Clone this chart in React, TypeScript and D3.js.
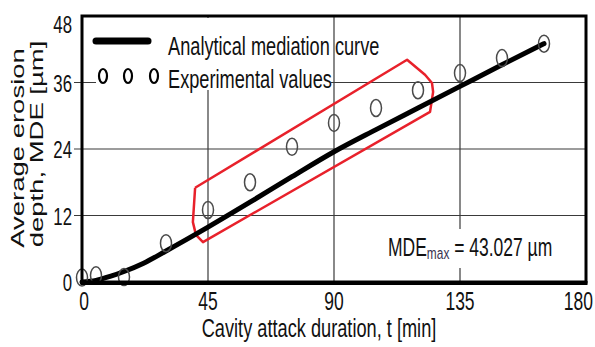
import { useEffect, useRef } from 'react';
import * as d3 from 'd3';

const expTime = [0, 5, 15, 30, 45, 60, 75, 90, 105, 120, 135, 150, 165];
const expDepth = [0.8, 1.2, 0.9, 7.0, 13.0, 18.0, 24.4, 28.7, 31.4, 34.6, 37.7, 40.4, 43.0];

// Analytical mediation curve
const curveTime = [0, 5, 10, 15, 22, 30, 45, 60, 75, 90, 105, 120, 135, 150, 165];
const curveDepth = [0, 0.3, 1.0, 1.9, 3.4, 5.6, 9.9, 14.4, 19.0, 23.5, 27.5, 31.4, 35.3, 39.2, 43.0];

// Red highlight outline, in data units (t, MDE)
const boxTime = [40.4, 116.1, 122.5, 125.0, 125.4, 124.3, 43.2, 40.7, 39.6, 40.4];
const boxDepth = [17.0, 40.1, 37.4, 35.9, 34.3, 30.7, 7.2, 8.5, 10.8, 17.0];

const xTicks = [0, 45, 90, 135, 180];
const yTicks = [0, 12, 24, 36, 48];

const legendLabels = ['Analytical mediation curve', 'Experimental values'];
const xTitle = 'Cavity attack duration, t [min]';
const yTitle = ['Average erosion', 'depth, MDE [µm]'];

const W = 595;
const H = 347;
const SX = 0.7; // figure is squashed horizontally
const FONT = '"Liberation Sans", Arial, sans-serif';
const INK = '#111';

const App = () => {
  const svgRef = useRef<SVGSVGElement>(null);

  useEffect(() => {
    if (!svgRef.current) return;
    const svg = d3.select(svgRef.current);
    svg.selectAll('*').remove();

    const left = 82, right = 586, top = 16, bottom = 282;

    const x = d3.scaleLinear().domain([0, 180]).range([left, right]);
    const y = d3.scaleLinear().domain([0, 48]).range([bottom, top]);

    const g = svg.append('g');

    const addText = (tx: number, ty: number, str: string, size: number, anchor = 'start', rot = 0) =>
      g.append('text')
        .attr('transform', `translate(${tx},${ty}) scale(${SX},1)${rot ? ` rotate(${rot})` : ''}`)
        .attr('text-anchor', anchor)
        .style('font-family', FONT)
        .style('font-size', `${size}px`)
        .style('fill', INK)
        .text(str);

    // grid
    g.selectAll('.gx')
      .data(xTicks.slice(1, -1))
      .enter()
      .append('line')
      .attr('x1', d => x(d)).attr('x2', d => x(d))
      .attr('y1', top).attr('y2', bottom)
      .attr('stroke', '#3a3a3a').attr('stroke-width', 1.2);

    g.selectAll('.gy')
      .data(yTicks.slice(1, -1))
      .enter()
      .append('line')
      .attr('x1', left - 8).attr('x2', right)
      .attr('y1', d => y(d)).attr('y2', d => y(d))
      .attr('stroke', '#3a3a3a').attr('stroke-width', 1.2);

    // white backing for legend and annotation
    g.append('rect').attr('x', 96).attr('y', top + 2).attr('width', 235).attr('height', 72).attr('fill', 'white');
    g.append('rect').attr('x', 385).attr('y', 229).attr('width', 173).attr('height', 39).attr('fill', 'white');

    // red highlight
    const boxPts = boxTime.map((t, i) => [x(t), y(boxDepth[i])] as [number, number]);
    g.append('path')
      .attr('d', d3.line()(boxPts))
      .attr('fill', 'none')
      .attr('stroke', '#e8212b')
      .attr('stroke-width', 2.5)
      .attr('stroke-linejoin', 'round');

    // analytical curve
    const curvePts = curveTime.map((t, i) => [x(t), y(curveDepth[i])] as [number, number]);
    g.append('path')
      .attr('d', d3.line().curve(d3.curveMonotoneX)(curvePts))
      .attr('fill', 'none')
      .attr('stroke', '#000')
      .attr('stroke-width', 5)
      .attr('stroke-linecap', 'round');

    // experimental points
    g.selectAll('.pt')
      .data(expTime.map((t, i) => ({ t, v: expDepth[i] })))
      .enter()
      .append('ellipse')
      .attr('cx', d => x(d.t))
      .attr('cy', d => y(d.v))
      .attr('rx', 5.5)
      .attr('ry', 8.5)
      .attr('fill', 'none')
      .attr('stroke', '#4a4a4a')
      .attr('stroke-width', 1.5);

    // frame
    g.append('rect')
      .attr('x', left).attr('y', top)
      .attr('width', right - left).attr('height', bottom - top)
      .attr('fill', 'none')
      .attr('stroke', '#000')
      .attr('stroke-width', 3);
    g.append('line')
      .attr('x1', left - 1.5).attr('x2', right + 1.5)
      .attr('y1', bottom + 1).attr('y2', bottom + 1)
      .attr('stroke', '#000').attr('stroke-width', 4);

    // legend
    g.append('line')
      .attr('x1', 96).attr('x2', 148).attr('y1', 41).attr('y2', 41)
      .attr('stroke', '#000').attr('stroke-width', 7).attr('stroke-linecap', 'round');
    [103, 128, 154].forEach(cx => {
      g.append('ellipse')
        .attr('cx', cx).attr('cy', 76).attr('rx', 4).attr('ry', 7)
        .attr('fill', 'none').attr('stroke', '#000').attr('stroke-width', 2.2);
    });
    addText(168, 55, legendLabels[0], 26);
    addText(168, 88, legendLabels[1], 26);

    // annotation
    const ann = g.append('text')
      .attr('transform', `translate(388,256) scale(${SX},1)`)
      .style('font-family', FONT)
      .style('font-size', '25px')
      .style('fill', INK);
    ann.append('tspan').text('MDE');
    ann.append('tspan').attr('dy', 3).style('font-size', '17px').style('fill', '#3a3350').text('max');
    ann.append('tspan').attr('dy', -3).text(' = 43.027 µm');

    // tick labels
    xTicks.forEach((t, i) => {
      const last = i === xTicks.length - 1;
      addText(last ? W - 2 : x(t) + (i === 0 ? 2 : 0), 310, String(t), 25, last ? 'end' : 'middle');
    });
    yTicks.forEach(v => {
      addText(72, Math.max(y(v) + 9, 33), String(v), 24, 'end');
    });

    // axis titles
    addText(319, 337, xTitle, 26, 'middle');
    addText(24, 148, yTitle[0], 27.5, 'middle', -90);
    addText(43, 144, yTitle[1], 27.5, 'middle', -90);
  }, []);

  return (
    <div style={{ position: 'absolute', left: 0, top: 0 }}>
      <svg ref={svgRef} width={W} height={H} style={{ display: 'block', background: 'white' }} />
    </div>
  );
};

export default App;
